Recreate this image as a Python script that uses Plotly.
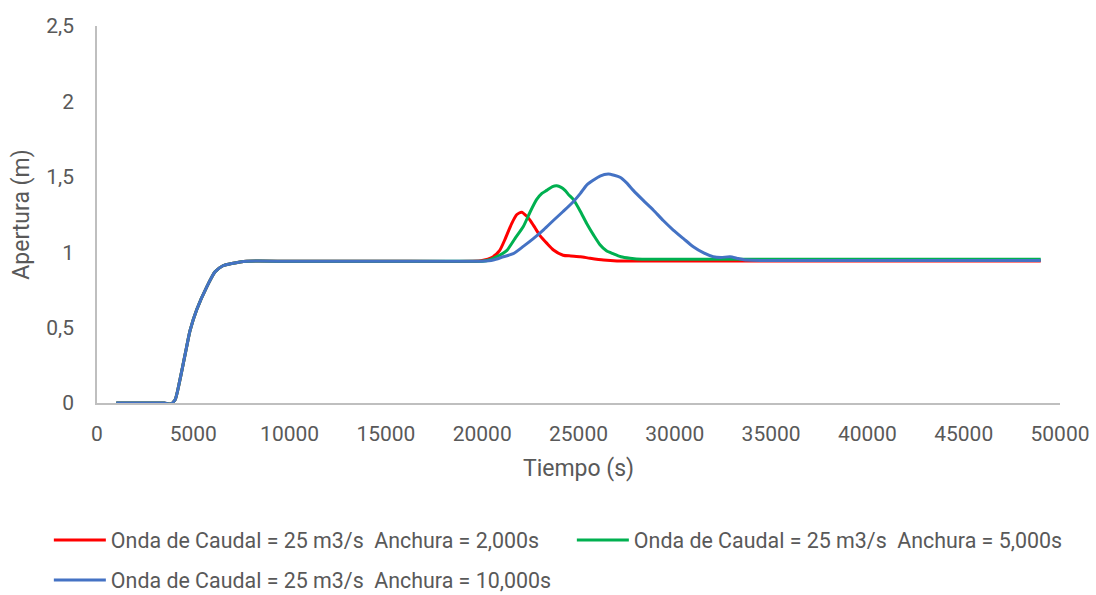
import plotly.graph_objects as go

# Common gate-opening ramp at start-up (time in s, opening in m)
t_inicio = [1000, 2000, 3000, 3500, 3800, 4050, 4300, 4650, 4830, 5180, 5700, 6130, 6540, 7000, 7770, 10000, 15000, 19500]
a_inicio = [0, 0, 0, 0, -0.007, 0.02, 0.15, 0.37, 0.48, 0.62, 0.77, 0.87, 0.91, 0.925, 0.94, 0.94, 0.94, 0.94]

# Flood wave, width 2,000 s
t_2000 = [20000, 20500, 20900, 21200, 21530, 21800, 22050, 22300, 22500, 22750, 23000, 23350, 23700,
          24200, 24600, 25100, 25600, 26300, 27000, 30000, 35000, 40000, 45000, 49000]
a_2000 = [0.945, 0.965, 1.01, 1.09, 1.19, 1.25, 1.265, 1.24, 1.21, 1.16, 1.11, 1.06, 1.015,
          0.98, 0.975, 0.97, 0.96, 0.948, 0.942, 0.942, 0.942, 0.942, 0.942, 0.942]

# Flood wave, width 5,000 s
t_5000 = [20000, 20400, 20900, 21270, 21700, 22135, 22500, 22830, 23100, 23350, 23650, 23870, 24100,
          24300, 24500, 24730, 25100, 25425, 25800, 26115, 26450, 26800, 27200, 27675, 28300, 28880,
          30000, 35000, 40000, 45000, 49000]
a_5000 = [0.94, 0.95, 0.98, 1.01, 1.09, 1.17, 1.27, 1.35, 1.39, 1.41, 1.435, 1.44, 1.43,
          1.41, 1.38, 1.35, 1.27, 1.19, 1.11, 1.05, 1.01, 0.99, 0.97, 0.96, 0.953, 0.953,
          0.953, 0.953, 0.953, 0.953, 0.953]

# Flood wave, width 10,000 s
t_10000 = [20000, 20575, 21100, 21615, 22150, 22654, 23200, 23692, 24200, 24730, 25100, 25425, 25800,
           26115, 26547, 26850, 27155, 27500, 27845, 28350, 28880, 29400, 29920, 30450, 30960, 31500,
           31998, 32400, 32865, 33300, 33730, 34500, 40000, 45000, 49000]
a_10000 = [0.94, 0.948, 0.97, 0.99, 1.04, 1.09, 1.15, 1.21, 1.27, 1.335, 1.39, 1.445, 1.48,
           1.505, 1.518, 1.51, 1.497, 1.46, 1.41, 1.345, 1.28, 1.21, 1.147, 1.09, 1.036, 0.995,
           0.97, 0.965, 0.97, 0.958, 0.948, 0.945, 0.945, 0.945, 0.945]

nombres = [
    "Onda de Caudal = 25 m3/s \u00a0Anchura = 2,000s",
    "Onda de Caudal = 25 m3/s \u00a0Anchura = 5,000s",
    "Onda de Caudal = 25 m3/s \u00a0Anchura = 10,000s",
]
colores = ["#FF0000", "#00B050", "#4472C4"]
series = [(t_2000, a_2000), (t_5000, a_5000), (t_10000, a_10000)]
# first two entries share the top legend row, the third goes on a second row
leyendas = ["legend", "legend", "legend2"]

fig = go.Figure()
for nombre, color, (t, a), ley in zip(nombres, colores, series, leyendas):
    fig.add_trace(go.Scatter(
        x=t_inicio + t, y=a_inicio + a, name=nombre, mode="lines", legend=ley,
        line=dict(color=color, width=3, shape="spline", smoothing=0.6),
    ))

gris = "#595959"
estilo_leyenda = dict(
    orientation="h", x=-0.05, xanchor="left", yanchor="middle",
    font=dict(size=21.4, color=gris), entrywidthmode="pixels",
    itemwidth=52, bgcolor="rgba(0,0,0,0)",
)
fig.update_layout(
    width=1096, height=595,
    paper_bgcolor="white", plot_bgcolor="white",
    separators=", ",
    font=dict(family="Roboto", size=21, color=gris),
    margin=dict(l=97, r=36, t=26, b=192, autoexpand=False),
    xaxis=dict(
        range=[0, 50000], tickvals=list(range(0, 50001, 5000)), tickformat="d",
        showgrid=False, zeroline=False, showline=True, linecolor="#BFBFBF", linewidth=1.5,
        ticks="", ticklabelstandoff=11,
        title=dict(text="Tiempo (s)", font=dict(size=23, color=gris), standoff=15),
    ),
    yaxis=dict(
        range=[0, 2.5], tickvals=[0, 0.5, 1, 1.5, 2, 2.5],
        showgrid=False, zeroline=False, showline=True, linecolor="#BFBFBF", linewidth=1.5,
        ticks="", ticklabelstandoff=17,
        title=dict(text="Apertura (m)", font=dict(size=23, color=gris), standoff=10),
    ),
    showlegend=True,
    legend=dict(estilo_leyenda, y=(403 - 540) / 377, entrywidth=456),
    legend2=dict(estilo_leyenda, y=(403 - 580) / 377, entrywidth=500),
)

fig.write_html("out.html")
